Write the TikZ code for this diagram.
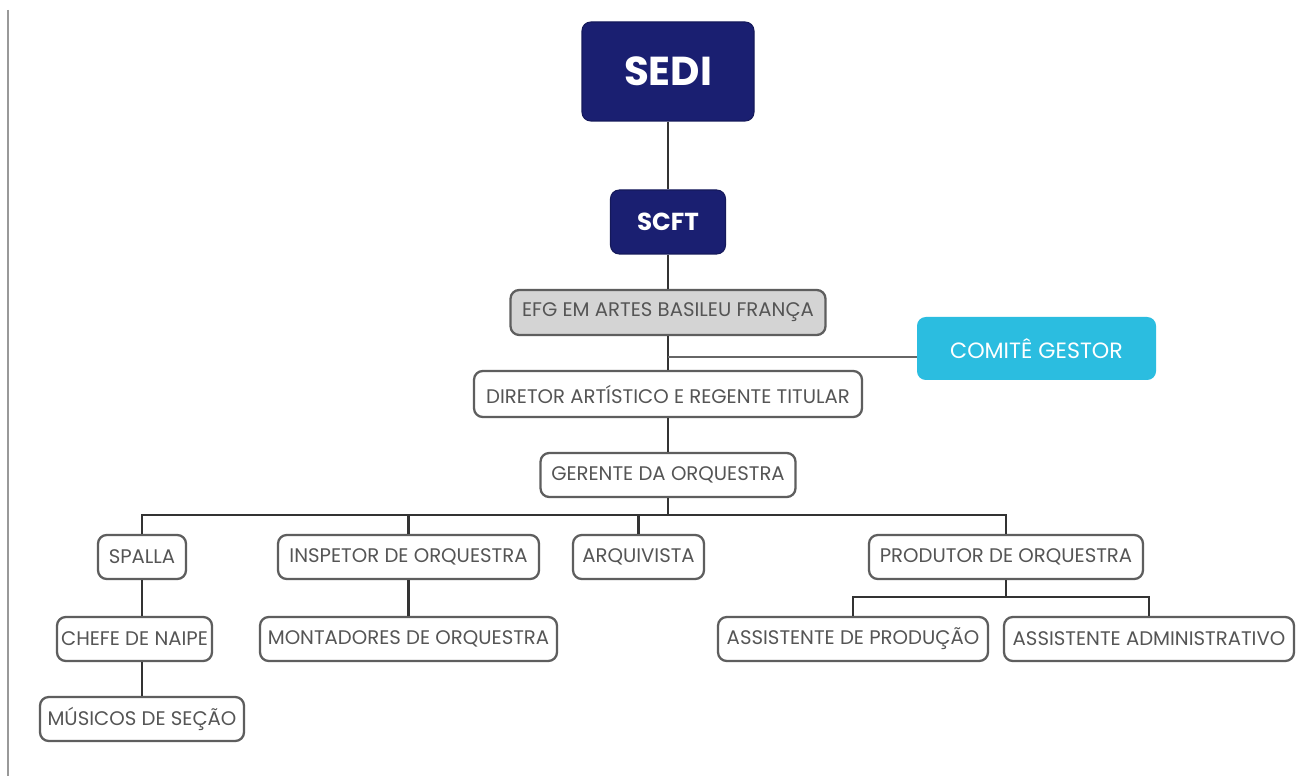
\documentclass[tikz,border=0pt]{standalone}
\usepackage{fontspec}
\setmainfont{Poppins}
\definecolor{navy}{HTML}{1A1F71}
\definecolor{cyanbox}{HTML}{2BBDE0}
\definecolor{boxline}{HTML}{5E5E5E}
\definecolor{boxtext}{HTML}{555555}
\definecolor{greyfill}{HTML}{D4D4D4}
\begin{document}
\begin{tikzpicture}[x=0.02cm,y=-0.02cm,
  orgbox/.style={draw=boxline,line width=1.3pt,rounded corners=5pt,fill=white,
    text=boxtext,font=\fontsize{11.2}{13}\selectfont,inner sep=0pt,anchor=center},
  navybox/.style={fill=navy,draw=navy!80!black,line width=0.6pt,rounded corners=5pt,text=white,inner sep=0pt},
  link/.style={draw=black!80,line width=1.4pt},
  thinlink/.style={draw=black!60,line width=0.6pt}]
\useasboundingbox (0,0) rectangle (1304,776);
\fill[white] (0,0) rectangle (1304,776);
\draw[black!40,line width=1.6pt] (8,10) -- (8,776);
% nodes
\node[navybox,minimum width=172*0.02cm,minimum height=99*0.02cm,font=\fontsize{23}{26}\bfseries] (sedi) at (668,71.5) {SEDI};
\node[navybox,minimum width=115*0.02cm,minimum height=64*0.02cm,font=\fontsize{14}{16}\bfseries] (scft) at (668,222) {SCFT};
\node[orgbox,fill=greyfill,minimum width=315*0.02cm,minimum height=45*0.02cm] (efg) at (668,312.5) {EFG EM ARTES BASILEU FRANÇA};
\node[fill=cyanbox,rounded corners=5pt,text=white,inner sep=0pt,minimum width=239*0.02cm,minimum height=63*0.02cm,font=\fontsize{12.6}{14}\selectfont] (comite) at (1036.5,348.5) {COMITÊ GESTOR};
\node[orgbox,minimum width=388*0.02cm,minimum height=46*0.02cm] (dir) at (668,394) {DIRETOR ARTÍSTICO E REGENTE TITULAR};
\node[orgbox,minimum width=255*0.02cm,minimum height=44*0.02cm] (ger) at (668,475) {GERENTE DA ORQUESTRA};
\node[orgbox,minimum width=88*0.02cm,minimum height=44*0.02cm] (spa) at (142,557) {SPALLA};
\node[orgbox,minimum width=261*0.02cm,minimum height=44*0.02cm] (insp) at (408.5,557) {INSPETOR DE ORQUESTRA};
\node[orgbox,minimum width=131*0.02cm,minimum height=44*0.02cm] (arq) at (638.5,557) {ARQUIVISTA};
\node[orgbox,minimum width=274*0.02cm,minimum height=44*0.02cm] (prod) at (1006,557) {PRODUTOR DE ORQUESTRA};
\node[orgbox,minimum width=155*0.02cm,minimum height=44*0.02cm] (chefe) at (134.5,639) {CHEFE DE NAIPE};
\node[orgbox,minimum width=297*0.02cm,minimum height=44*0.02cm] (mont) at (408.5,639) {MONTADORES DE ORQUESTRA};
\node[orgbox,minimum width=204*0.02cm,minimum height=44*0.02cm] (mus) at (142,719) {MÚSICOS DE SEÇÃO};
\node[orgbox,minimum width=270*0.02cm,minimum height=44*0.02cm] (asp) at (853,639) {ASSISTENTE DE PRODUÇÃO};
\node[orgbox,minimum width=290*0.02cm,minimum height=44*0.02cm] (asa) at (1149,639) {ASSISTENTE ADMINISTRATIVO};
% connectors
\coordinate (busL) at (142,515);
\coordinate (busR) at (1006,515);
\coordinate (cj) at (668,357);
\draw[link] (sedi.south) -- (scft.north);
\draw[link] (scft.south) -- (efg.north);
\draw[link] (efg.south) -- (dir.north);
\draw[link] (dir.south) -- (ger.north);
\draw[thinlink] (cj) -- (comite.west |- cj);
\draw[link] (ger.south) -- (ger.south |- busL);
\draw[link] (spa.north) -- (busL) -- (busR) -- (prod.north);
\draw[link] (insp.north) -- (insp.north |- busL);
\draw[link] (arq.north) -- (arq.north |- busL);
\draw[link] (spa.south) -- (chefe.north -| spa.south);
\draw[link] (chefe.south -| mus.north) -- (mus.north);
\draw[link] (insp.south) -- (mont.north);
\coordinate (bus2) at (1006,597);
\draw[link] (prod.south) -- (bus2);
\draw[link] (asp.north) -- (asp.north |- bus2) -- (asa.north |- bus2) -- (asa.north);
\end{tikzpicture}
\end{document}
